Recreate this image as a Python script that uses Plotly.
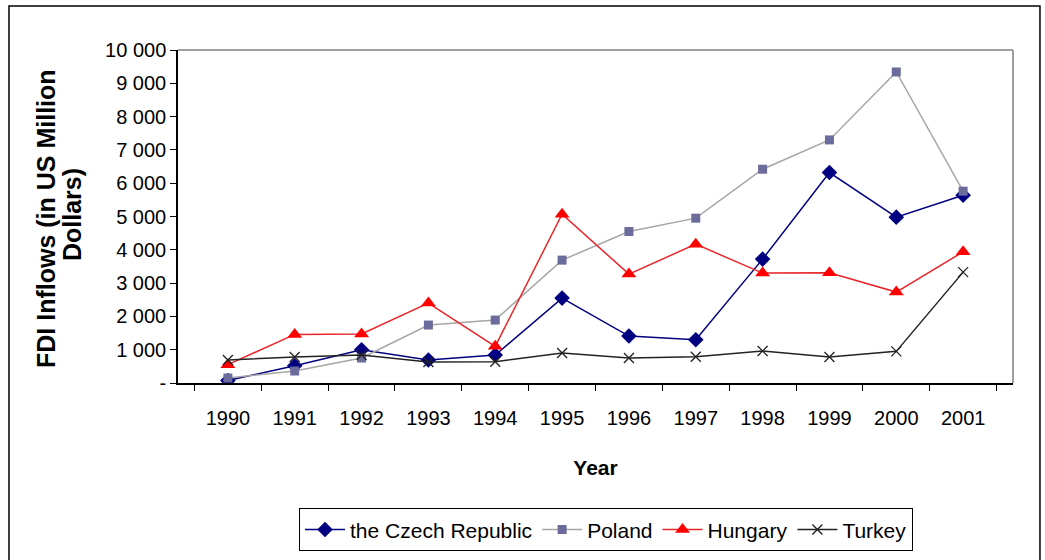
import plotly.graph_objects as go

years = ["1990", "1991", "1992", "1993", "1994", "1995", "1996", "1997", "1998", "1999", "2000", "2001"]
czech = [72, 520, 1000, 690, 840, 2550, 1410, 1300, 3720, 6320, 4980, 5640]
poland = [150, 360, 750, 1740, 1890, 3690, 4550, 4950, 6420, 7300, 9340, 5760]
hungary = [550, 1460, 1470, 2400, 1100, 5070, 3270, 4170, 3300, 3310, 2730, 3940]
turkey = [690, 780, 840, 630, 640, 900, 750, 790, 960, 780, 950, 3330]
y_ticks = [0, 1000, 2000, 3000, 4000, 5000, 6000, 7000, 8000, 9000, 10000]
y_ticktext = ["-" if v == 0 else f"{v:,}".replace(",", " ") for v in y_ticks]
y_title_lines = ["FDI Inflows (in US Million", "Dollars)"]

FONT = "Liberation Sans, Arial, sans-serif"

fig = go.Figure()
fig.add_trace(go.Scatter(x=years, y=czech, name="the Czech Republic", mode="lines+markers",
                         line=dict(color="#000080", width=1.5),
                         marker=dict(symbol="diamond", size=12, color="#000080")))
fig.add_trace(go.Scatter(x=years, y=poland, name="Poland", mode="lines+markers",
                         line=dict(color="#a6a6a6", width=1.5),
                         marker=dict(symbol="square", size=9, color="#6b6b9c")))
fig.add_trace(go.Scatter(x=years, y=hungary, name="Hungary", mode="lines+markers",
                         line=dict(color="#e8262a", width=1.5),
                         marker=dict(symbol="triangle-up", size=13, color="#ff0000")))
fig.add_trace(go.Scatter(x=years, y=turkey, name="Turkey", mode="lines+markers",
                         line=dict(color="#222222", width=1.5),
                         marker=dict(symbol="x-thin-open", size=10, color="#222222",
                                     line=dict(width=1.3, color="#222222"))))

fig.update_layout(
    width=1045, height=560,
    margin=dict(l=178, r=32, t=50, b=177, autoexpand=False),
    paper_bgcolor="white", plot_bgcolor="white",
    font=dict(family=FONT, color="black", size=20),
    showlegend=True,
    legend=dict(orientation="h", x=0.5126, y=-0.441, xanchor="center", yanchor="middle",
                bordercolor="black", borderwidth=1, bgcolor="white",
                font=dict(size=21, family=FONT), itemwidth=40, tracegroupgap=0),
    xaxis=dict(type="category", showline=True, linecolor="black", linewidth=1.5,
               ticks="outside", tickson="boundaries", ticklen=6, tickcolor="black",
               showgrid=False, zeroline=False, tickfont=dict(size=20),
               ticklabelstandoff=16,
               title=dict(text="<b>Year</b>", font=dict(size=21), standoff=33)),
    yaxis=dict(range=[0, 10000], tickvals=y_ticks, ticktext=y_ticktext,
               showline=True, linecolor="black", linewidth=1.5,
               ticks="outside", ticklen=6, tickcolor="black",
               showgrid=False, zeroline=False, tickfont=dict(size=20)),
)

# y-axis title as two rotated lines
fig.add_annotation(text=f"<b>{y_title_lines[0]}</b>", textangle=-90, showarrow=False,
                   xref="paper", yref="paper", x=(46 - 178) / 835, y=(383 - 219) / 333,
                   xanchor="center", yanchor="middle", font=dict(size=25, family=FONT))
fig.add_annotation(text=f"<b>{y_title_lines[1]}</b>", textangle=-90, showarrow=False,
                   xref="paper", yref="paper", x=(72 - 178) / 835, y=(383 - 215) / 333,
                   xanchor="center", yanchor="middle", font=dict(size=25, family=FONT))

# plot area top/right border
fig.add_shape(type="line", xref="paper", yref="paper", x0=0, x1=1, y0=1, y1=1,
              line=dict(color="#808080", width=1.5))
fig.add_shape(type="line", xref="paper", yref="paper", x0=1, x1=1, y0=0, y1=1,
              line=dict(color="#808080", width=1.5))
# outer chart frame
fig.add_shape(type="rect", xref="paper", yref="paper", x0=-0.2024, x1=1.0323,
              y0=-0.56, y1=1.1321, line=dict(color="black", width=1.5), layer="below")

fig.write_html("out.html", config={"displayModeBar": False},
               post_script="document.body.style.margin='0';")
